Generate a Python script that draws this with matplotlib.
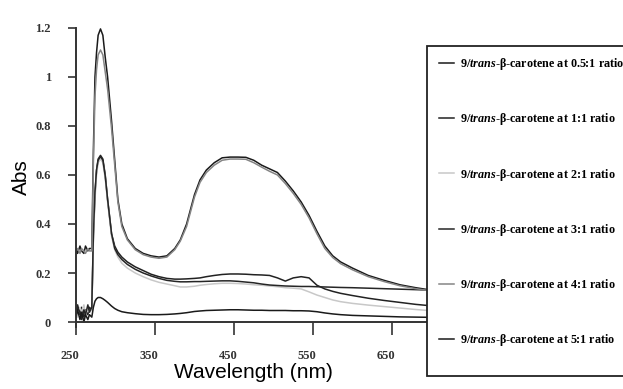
import matplotlib
matplotlib.use("Agg")
import matplotlib.pyplot as plt
import matplotlib.transforms as mtransforms
from matplotlib.patches import Rectangle
import numpy as np

plt.rcParams['mathtext.fontset'] = 'custom'
plt.rcParams['mathtext.rm'] = 'Liberation Serif:bold'
plt.rcParams['mathtext.it'] = 'Liberation Serif:italic:bold'

# wavelength grid (nm)
wl = np.array([250, 252, 255, 257, 260, 262, 265, 267,
               270, 271, 272, 274, 276, 278, 281, 284, 287, 290,
               295, 299, 303, 308, 315,
               325, 335, 345, 355, 365, 375,
               382, 390, 400, 407,
               415, 425, 435, 445, 455, 465, 475, 485, 495, 505,
               515, 525, 535, 545, 555, 565, 575, 585,
               600, 620, 640, 660, 680, 700])

abs_05 = [0.30, 0.28, 0.31, 0.29, 0.28, 0.31, 0.29, 0.30,
          0.30, 0.50, 0.70, 1.00, 1.10, 1.17, 1.196, 1.17, 1.08, 1.00,
          0.82, 0.66, 0.50, 0.40, 0.34,
          0.30, 0.28, 0.27, 0.265, 0.27, 0.30,
          0.335, 0.40, 0.52, 0.58,
          0.62, 0.65, 0.67, 0.673, 0.673, 0.672, 0.66, 0.64, 0.625, 0.61,
          0.575, 0.535, 0.49, 0.435, 0.37, 0.31, 0.27, 0.245,
          0.22, 0.19, 0.17, 0.152, 0.14, 0.13]

abs_1 = [0.04, 0.07, 0.03, 0.06, 0.02, 0.05, 0.03, 0.06,
         0.05, 0.20, 0.35, 0.52, 0.62, 0.665, 0.68, 0.665, 0.60, 0.50,
         0.36, 0.31, 0.285, 0.265, 0.245,
         0.225, 0.21, 0.195, 0.185, 0.178, 0.175,
         0.175, 0.176, 0.178, 0.18,
         0.185, 0.19, 0.194, 0.196, 0.196, 0.195, 0.193, 0.192, 0.19, 0.18,
         0.167, 0.18, 0.185, 0.18, 0.15, 0.135, 0.125, 0.117,
         0.108, 0.097, 0.088, 0.08, 0.072, 0.066]

abs_2 = [0.05, 0.02, 0.06, 0.04, 0.07, 0.03, 0.05, 0.04,
         0.05, 0.20, 0.33, 0.50, 0.60, 0.65, 0.665, 0.65, 0.585, 0.49,
         0.35, 0.295, 0.265, 0.24, 0.22,
         0.20, 0.185, 0.172, 0.162, 0.155, 0.148,
         0.143, 0.143, 0.146, 0.15,
         0.153, 0.156, 0.158, 0.158, 0.157, 0.155, 0.152, 0.15, 0.147, 0.144,
         0.14, 0.138, 0.135, 0.123, 0.11, 0.10, 0.09, 0.083,
         0.076, 0.069, 0.063, 0.057, 0.051, 0.046]

abs_3 = [0.03, 0.06, 0.04, 0.01, 0.05, 0.03, 0.07, 0.04,
         0.06, 0.21, 0.36, 0.53, 0.62, 0.66, 0.675, 0.66, 0.595, 0.50,
         0.36, 0.30, 0.275, 0.255, 0.235,
         0.215, 0.20, 0.188, 0.178, 0.17, 0.166,
         0.164, 0.164, 0.165, 0.165,
         0.166, 0.167, 0.168, 0.168, 0.166, 0.163, 0.16, 0.155, 0.151, 0.149,
         0.147, 0.146, 0.145, 0.145, 0.144, 0.143, 0.142, 0.141,
         0.14, 0.138, 0.136, 0.134, 0.132, 0.13]

abs_4 = [0.29, 0.30, 0.28, 0.30, 0.29, 0.28, 0.30, 0.29,
         0.29, 0.45, 0.65, 0.92, 1.03, 1.09, 1.11, 1.09, 1.02, 0.95,
         0.79, 0.64, 0.49, 0.39, 0.335,
         0.295, 0.275, 0.265, 0.26, 0.265, 0.295,
         0.33, 0.39, 0.51, 0.57,
         0.61, 0.64, 0.66, 0.665, 0.665, 0.664, 0.65, 0.632, 0.615, 0.60,
         0.565, 0.525, 0.48, 0.425, 0.36, 0.30, 0.263, 0.238,
         0.213, 0.185, 0.165, 0.148, 0.136, 0.127]

abs_5 = [0.02, 0.05, 0.01, 0.04, 0.00, 0.03, 0.01, 0.03,
         0.02, 0.04, 0.06, 0.085, 0.095, 0.10, 0.10, 0.095, 0.088, 0.08,
         0.065, 0.055, 0.048, 0.042, 0.038,
         0.034, 0.031, 0.03, 0.03, 0.031, 0.033,
         0.035, 0.038, 0.043, 0.045,
         0.047, 0.048, 0.049, 0.05, 0.05, 0.049, 0.048, 0.048, 0.047, 0.047,
         0.047, 0.046, 0.046, 0.045, 0.042, 0.037, 0.033, 0.03,
         0.027, 0.025, 0.023, 0.021, 0.02, 0.019]

ratios = ['0.5:1', '1:1', '2:1', '3:1', '4:1', '5:1']
series = [abs_05, abs_1, abs_2, abs_3, abs_4, abs_5]
colors = ['#1a1a1a', '#222222', '#c8c8c8', '#262626', '#858585', '#1a1a1a']

fig = plt.figure(figsize=(6.23, 3.89), dpi=100)
ax = fig.add_axes([0.122, 0.1596, 0.5706, 0.7686])

lines = []
for r, y, c in zip(ratios, series, colors):
    ln, = ax.plot(wl, y, color=c, lw=1.1)
    lines.append(ln)

ax.set_xlim(250, 700)
ax.set_ylim(-0.02, 1.2)
ax.spines['top'].set_visible(False)
ax.spines['right'].set_visible(False)
ax.spines['bottom'].set_position(('data', 0))
for s in ('left', 'bottom'):
    ax.spines[s].set_linewidth(1.4)
    ax.spines[s].set_color('#333333')

ax.set_xticks([250, 350, 450, 550, 650])
ax.set_yticks([0, 0.2, 0.4, 0.6, 0.8, 1.0, 1.2])
ax.set_yticklabels(['0', '0.2', '0.4', '0.6', '0.8', '1', '1.2'])
ax.tick_params(axis='x', direction='out', length=9, width=1.2, color='#333333', pad=11)
ax.tick_params(axis='y', direction='out', length=6, width=1.2, color='#333333', pad=12)
for lab in ax.get_xticklabels() + ax.get_yticklabels():
    lab.set_fontfamily('Liberation Serif')
    lab.set_fontweight('bold')
    lab.set_fontsize(9)
    lab.set_color('#333333')
shift = mtransforms.ScaledTranslation(-0.06, 0, fig.dpi_scale_trans)
for lab in ax.get_xticklabels():
    lab.set_transform(lab.get_transform() + shift)

ax.set_xlabel('Wavelength (nm)', fontsize=15, fontfamily='Liberation Sans', labelpad=1)
ax.set_ylabel('Abs', fontsize=15, fontfamily='Liberation Sans', labelpad=3)

# legend box
box = Rectangle((427 / 623, 1 - 376 / 389), 300 / 623, 330 / 389,
                transform=fig.transFigure, facecolor='white',
                edgecolor='#222222', lw=1.3, zorder=3)
fig.add_artist(box)

labels = ['9/$\\mathit{trans}$-\u03b2-carotene at %s ratio' % r for r in ratios]
leg = fig.legend(lines, labels, loc='upper left',
                 bbox_to_anchor=(439 / 623, 1 - 56 / 389),
                 frameon=False, borderpad=0, borderaxespad=0,
                 handlelength=1.2, handletextpad=0.5, labelspacing=3.25,
                 prop={'family': 'Liberation Serif', 'weight': 'bold', 'size': 8.7})
leg.set_zorder(4)

fig.savefig('out.png', dpi=100)
